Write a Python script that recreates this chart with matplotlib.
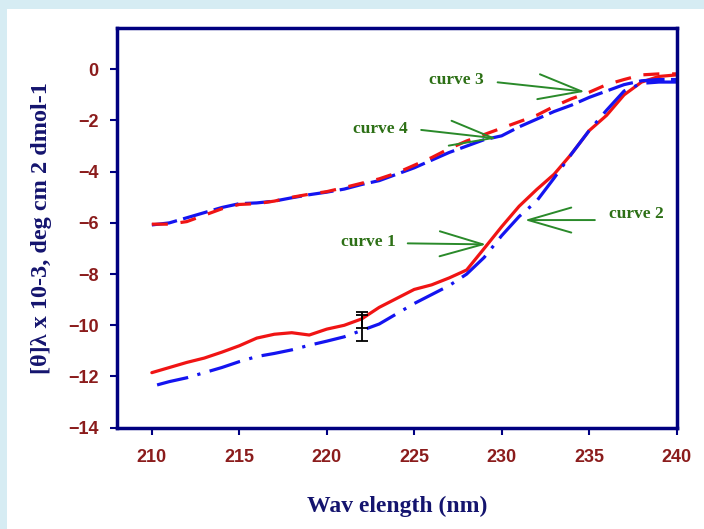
import matplotlib.pyplot as plt
from matplotlib.patches import Rectangle

# wavelength (nm) and ellipticity values
wl_1 = [210, 211, 212, 213, 214, 215, 216, 217, 218, 219, 220, 221, 222, 223, 224, 225,
        226, 227, 228, 229, 230, 231, 232, 233, 234, 235, 236, 237, 238, 239, 240]
curve1 = [-11.85, -11.65, -11.45, -11.28, -11.05, -10.8, -10.5, -10.35, -10.29, -10.38, -10.15,
          -10.0, -9.75, -9.3, -8.95, -8.6, -8.42, -8.15, -7.84, -7.0, -6.15, -5.35, -4.7, -4.1,
          -3.3, -2.4, -1.8, -1.0, -0.5, -0.28, -0.22]

wl_2 = [210.3, 211, 212, 213, 214, 215, 216, 217, 218, 219, 220, 221, 222, 223, 224, 225,
        226, 227, 228, 229, 230, 231, 232, 233, 234, 235, 236, 237, 238, 239, 240]
curve2 = [-12.33, -12.2, -12.05, -11.85, -11.65, -11.42, -11.22, -11.1, -10.96, -10.78, -10.62,
          -10.45, -10.2, -9.95, -9.55, -9.15, -8.8, -8.45, -8.0, -7.35, -6.5, -5.75, -5.15, -4.25,
          -3.3, -2.4, -1.6, -0.85, -0.55, -0.5, -0.5]

wl_34 = wl_1
curve3 = [-6.05, -6.05, -5.95, -5.7, -5.45, -5.28, -5.25, -5.15, -5.0, -4.88, -4.78, -4.62, -4.45,
          -4.28, -4.05, -3.75, -3.45, -3.1, -2.8, -2.55, -2.3, -2.05, -1.8, -1.45, -1.15, -0.9,
          -0.6, -0.4, -0.22, -0.18, -0.18]
curve4 = [-6.08, -6.0, -5.8, -5.6, -5.4, -5.25, -5.22, -5.15, -5.02, -4.9, -4.8, -4.68, -4.5,
          -4.35, -4.1, -3.85, -3.55, -3.25, -3.0, -2.75, -2.6, -2.25, -1.95, -1.65, -1.4, -1.1,
          -0.85, -0.6, -0.45, -0.4, -0.4]

# error bars at 222 nm
err_x = [222, 222]
err_y = [-9.8, -10.1]
err_e = [0.3, 0.5]

labels = ['curve 1', 'curve 2', 'curve 3', 'curve 4']
label_pos = [(222.39, -6.73), (237.72, -5.65), (227.44, -0.42), (223.07, -2.33)]
arrow_from = [(224.63, -6.80), (235.33, -5.89), (229.77, -0.51), (225.4, -2.37)]
arrow_to = [(229.12, -6.84), (231.32, -5.89), (234.76, -0.875), (229.7, -2.70)]

xticks = [210, 215, 220, 225, 230, 235, 240]
yticks = [0, -2, -4, -6, -8, -10, -12, -14]

fig = plt.figure(figsize=(7.04, 5.29), dpi=100, facecolor='#d6ecf3')
fig.patches.append(Rectangle((7 / 704, 0), 1, 1 - 9 / 529, transform=fig.transFigure,
                             facecolor='white', edgecolor='none', zorder=-5))
ax = fig.add_axes([0.166, 0.1915, 0.795, 0.755])

red = '#f01414'
blue = '#1414f0'
ax.plot(wl_1, curve1, color=red, lw=2.3, solid_capstyle='round')
ax.plot(wl_2, curve2, color=blue, lw=2.3, dashes=(10, 3, 1, 3))
ax.plot(wl_34, curve4, color=blue, lw=2.3, dashes=(8, 2))
ax.plot(wl_34, curve3, color=red, lw=2.3, dashes=(5, 4))

ax.errorbar(err_x, err_y, yerr=err_e, fmt='none', ecolor='black', elinewidth=1.3,
            capsize=4, capthick=1.3)

green = '#2a8a2a'
for lab, tp, a0, a1 in zip(labels, label_pos, arrow_from, arrow_to):
    ax.text(tp[0], tp[1], lab, ha='center', va='center', color='#2d7016',
            fontfamily='Liberation Serif', fontweight='bold', fontsize=12.5)
    ax.annotate('', xy=a1, xytext=a0,
                arrowprops=dict(arrowstyle='->,head_length=3.1,head_width=0.9',
                                color=green, lw=1.4, mutation_scale=10,
                                shrinkA=0, shrinkB=0))

ax.set_xlim(208, 240)
ax.set_ylim(-14, 1.6)
ax.set_xticks(xticks)
ax.set_yticks(yticks)
for lab in ax.get_xticklabels() + ax.get_yticklabels():
    lab.set_fontfamily('Liberation Sans')
    lab.set_fontweight('bold')
    lab.set_fontsize(13)
    lab.set_color('#8b1c1c')
ax.tick_params(axis='both', direction='out', length=5, width=1.5, color='#000080')
ax.tick_params(axis='x', pad=10)
ax.tick_params(axis='y', pad=8)
for sp in ax.spines.values():
    sp.set_color('#000080')
    sp.set_linewidth(2.5)

ax.set_xlabel('Wav elength (nm)', fontfamily='Liberation Serif', fontweight='bold',
              fontsize=17, color='#14146e', labelpad=22)
ax.set_ylabel('[θ]λ x 10-3, deg cm 2 dmol-1', fontfamily='Liberation Serif',
              fontweight='bold', fontsize=17.5, color='#14146e', labelpad=12)

fig.savefig('out.png', dpi=100, facecolor=fig.get_facecolor())
